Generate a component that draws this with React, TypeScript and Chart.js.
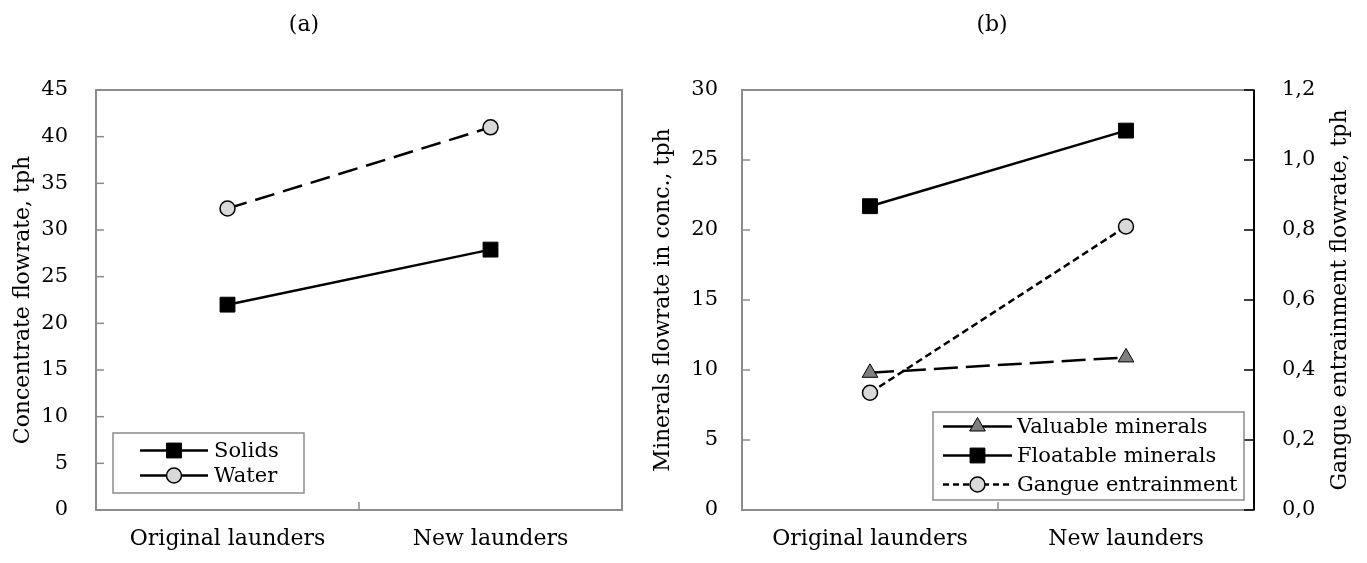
import React, { useEffect, useRef } from 'react';
import { Chart, registerables } from 'chart.js';
import { drawPoint } from 'chart.js/helpers';

Chart.register(...registerables);

// ---------- data ----------
const categories = ['Original launders', 'New launders'];
const solids = [22.0, 27.9];
const water = [32.3, 41.0];
const valuable = [9.8, 10.9];
const floatable = [21.7, 27.1];
const gangue = [0.335, 0.81];

const panelATitle = '(a)';
const panelBTitle = '(b)';
const yTitleA = 'Concentrate flowrate, tph';
const yTitleB = 'Minerals flowrate in conc., tph';
const y1TitleB = 'Gangue entrainment flowrate, tph';

const FONT = 'DejaVu Serif';
const GRAY = '#8c8c8c';

// ---------- plugins ----------
const framePlugin = {
  id: 'frame',
  beforeDatasetsDraw(chart: any, _args: any, opts: any) {
    const { ctx, chartArea } = chart;
    const { left, right, top, bottom } = chartArea;
    ctx.save();
    ctx.setLineDash([]);
    ctx.lineWidth = 2;
    ctx.strokeStyle = GRAY;
    ctx.strokeRect(left, top, right - left, bottom - top);
    // inner ticks on left axis
    const y = chart.scales.y;
    ctx.lineWidth = 1.5;
    y.ticks.forEach((t: any) => {
      const py = y.getPixelForValue(t.value);
      ctx.beginPath();
      ctx.moveTo(left, py);
      ctx.lineTo(left + 8, py);
      ctx.stroke();
    });
    // middle category tick on x axis
    const x = chart.scales.x;
    const mid = (x.getPixelForValue(0) + x.getPixelForValue(1)) / 2;
    ctx.beginPath();
    ctx.moveTo(mid, bottom);
    ctx.lineTo(mid, bottom - 8);
    ctx.stroke();
    // right axis
    if (opts && opts.rightAxis && chart.scales.y1) {
      const y1 = chart.scales.y1;
      ctx.strokeStyle = '#000';
      ctx.lineWidth = 2;
      ctx.beginPath();
      ctx.moveTo(right, top);
      ctx.lineTo(right, bottom);
      ctx.stroke();
      ctx.lineWidth = 1.5;
      y1.ticks.forEach((t: any) => {
        const py = y1.getPixelForValue(t.value);
        ctx.beginPath();
        ctx.moveTo(right, py);
        ctx.lineTo(right - 10, py);
        ctx.stroke();
      });
      // right axis title, reading bottom to top
      ctx.fillStyle = '#000';
      ctx.font = `22px "${FONT}"`;
      ctx.textAlign = 'center';
      ctx.textBaseline = 'middle';
      ctx.translate(right + opts.rightTitleOffset, (top + bottom) / 2);
      ctx.rotate(-Math.PI / 2);
      ctx.fillText(opts.rightTitle, 0, 0);
    }
    ctx.restore();
  },
};

const boxLegendPlugin = {
  id: 'boxLegend',
  afterDatasetsDraw(chart: any, _args: any, o: any) {
    if (!o || !o.width) return;
    const { ctx, chartArea } = chart;
    const bx = o.anchor === 'left' ? chartArea.left + o.dx : chartArea.right - o.dx - o.width;
    const by = chartArea.bottom - o.dy - o.height;
    ctx.save();
    ctx.fillStyle = '#fff';
    ctx.fillRect(bx, by, o.width, o.height);
    ctx.strokeStyle = GRAY;
    ctx.lineWidth = 1.5;
    ctx.setLineDash([]);
    ctx.strokeRect(bx, by, o.width, o.height);
    chart.data.datasets.forEach((ds: any, i: number) => {
      const cy = by + o.firstRow + i * o.rowH;
      ctx.strokeStyle = ds.borderColor;
      ctx.lineWidth = ds.borderWidth;
      ctx.setLineDash(o.dashes ? o.dashes[i] : ds.borderDash || []);
      ctx.beginPath();
      ctx.moveTo(bx + o.lineX0, cy);
      ctx.lineTo(bx + o.lineX1, cy);
      ctx.stroke();
      ctx.setLineDash([]);
      ctx.fillStyle = ds.pointBackgroundColor;
      ctx.strokeStyle = ds.pointBorderColor;
      ctx.lineWidth = ds.pointBorderWidth;
      drawPoint(ctx, { pointStyle: ds.pointStyle, radius: ds.pointRadius, rotation: 0, borderWidth: ds.pointBorderWidth }, bx + (o.lineX0 + o.lineX1) / 2, cy);
      ctx.fillStyle = '#000';
      ctx.font = `${o.fontSize}px "${FONT}"`;
      ctx.textAlign = 'left';
      ctx.textBaseline = 'middle';
      ctx.fillText(ds.label, bx + o.textX, cy + 1);
    });
    ctx.restore();
  },
};

// ---------- helpers ----------
function ds(label: string, data: number[], style: string, radius: number, fill: string, dash: number[], borderW: number, axis = 'y') {
  return {
    label,
    data,
    yAxisID: axis,
    borderColor: '#000',
    borderWidth: 2.5,
    borderDash: dash,
    pointStyle: style,
    pointRadius: radius,
    pointHoverRadius: radius,
    pointBackgroundColor: fill,
    pointBorderColor: '#000',
    pointBorderWidth: borderW,
    fill: false,
    tension: 0,
  };
}

function xScale() {
  return {
    type: 'category',
    offset: true,
    grid: { display: false, drawTicks: false },
    border: { display: false },
    ticks: { font: { family: FONT, size: 22 }, color: '#000', padding: 16, maxRotation: 0 },
    afterFit(s: any) {
      s.height = 53;
      s.paddingLeft = 0;
      s.paddingRight = 0;
    },
  };
}

function yScale(min: number, max: number, step: number, width: number, title: string, titlePad: number, tickPad: number, position = 'left', fmt?: (v: number) => string) {
  return {
    type: 'linear',
    position,
    min,
    max,
    grid: { display: false, drawTicks: false },
    border: { display: false },
    ticks: {
      stepSize: step,
      font: { family: FONT, size: 21 },
      color: '#000',
      padding: tickPad,
      callback: fmt ? (v: any) => fmt(Number(v)) : (v: any) => String(v),
    },
    title: title
      ? { display: true, text: title, font: { family: FONT, size: 22 }, color: '#000', padding: { top: titlePad, bottom: 0 } }
      : { display: false },
    afterFit(s: any) { s.width = width; },
  };
}

export default function App() {
  const aRef = useRef<HTMLCanvasElement>(null);
  const bRef = useRef<HTMLCanvasElement>(null);

  useEffect(() => {
    const chartA = new Chart(aRef.current as HTMLCanvasElement, {
      type: 'line',
      data: {
        labels: categories,
        datasets: [
          ds('Solids', solids, 'rect', 10.5, '#000', [], 1),
          ds('Water', water, 'circle', 7.5, '#d9d9d9', [20, 9], 1.5),
        ],
      },
      options: {
        animation: false,
        responsive: true,
        maintainAspectRatio: false,
        layout: { autoPadding: false, padding: { top: 90, left: 0, right: 2, bottom: 0 } },
        scales: {
          x: xScale(),
          y: yScale(0, 45, 5, 96, yTitleA, 10, 28),
        } as any,
        plugins: {
          legend: { display: false },
          tooltip: { enabled: false },
          frame: { rightAxis: false },
          boxLegend: {
            anchor: 'left', dx: 17, dy: 17, width: 191, height: 60,
            firstRow: 17.5, rowH: 25, lineX0: 27, lineX1: 95, textX: 101, fontSize: 21,
            dashes: [[], []],
          },
        } as any,
      },
      plugins: [framePlugin, boxLegendPlugin],
    } as any);

    const chartB = new Chart(bRef.current as HTMLCanvasElement, {
      type: 'line',
      data: {
        labels: categories,
        datasets: [
          ds('Valuable minerals', valuable, 'triangle', 9, '#7f7f7f', [24, 8], 1),
          ds('Floatable minerals', floatable, 'rect', 10.5, '#000', [], 1),
          ds('Gangue entrainment', gangue, 'circle', 7.5, '#d9d9d9', [7, 4], 1.5, 'y1'),
        ],
      },
      options: {
        animation: false,
        responsive: true,
        maintainAspectRatio: false,
        layout: { autoPadding: false, padding: { top: 90, left: 0, right: 0, bottom: 0 } },
        scales: {
          x: xScale(),
          y: yScale(0, 30, 5, 112, yTitleB, 20, 24),
          y1: yScale(0, 1.2, 0.2, 113, '', 0, 28, 'right', (v) => v.toFixed(1).replace('.', ',')),
        } as any,
        plugins: {
          legend: { display: false },
          tooltip: { enabled: false },
          frame: { rightAxis: true, rightTitle: y1TitleB, rightTitleOffset: 86 },
          boxLegend: {
            anchor: 'right', dx: 10, dy: 10, width: 311, height: 88,
            firstRow: 14.5, rowH: 29, lineX0: 10, lineX1: 79, textX: 84, fontSize: 21,
            dashes: [[], [], [6, 4]],
          },
        } as any,
      },
      plugins: [framePlugin, boxLegendPlugin],
    } as any);

    return () => {
      chartA.destroy();
      chartB.destroy();
    };
  }, []);

  const titleStyle: React.CSSProperties = {
    position: 'absolute',
    top: 11,
    width: 100,
    textAlign: 'center',
    fontFamily: FONT,
    fontSize: 22,
    lineHeight: '26px',
    color: '#000',
  };

  return (
    <div style={{ position: 'fixed', left: 0, top: 0, width: 1367, height: 563, background: '#fff', overflow: 'hidden' }}>
      <div style={{ position: 'absolute', left: 0, top: 0, width: 624, height: 563 }}>
        <canvas ref={aRef} />
      </div>
      <div style={{ position: 'absolute', left: 630, top: 0, width: 737, height: 563 }}>
        <canvas ref={bRef} />
      </div>
      <div style={{ ...titleStyle, left: 304 - 50 }}>{panelATitle}</div>
      <div style={{ ...titleStyle, left: 992 - 50 }}>{panelBTitle}</div>
    </div>
  );
}
